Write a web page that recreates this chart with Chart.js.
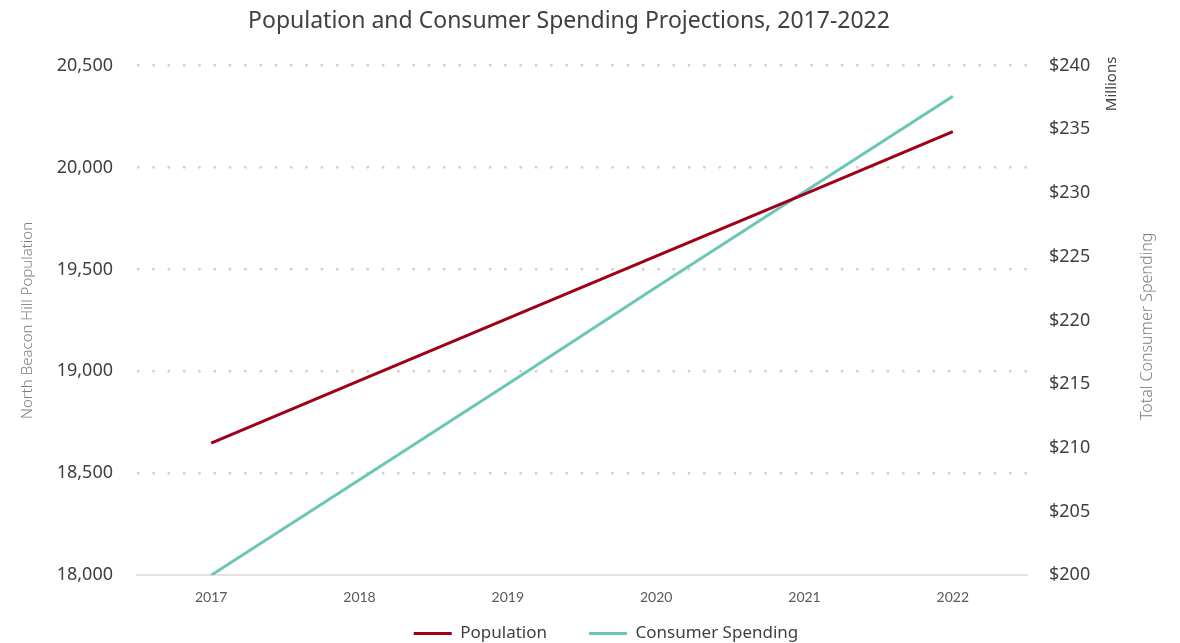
<!DOCTYPE html>
<html>
<head>
<meta charset="utf-8">
<script src="https://cdn.jsdelivr.net/npm/chart.js@4"></script>
<style>
    html, body { margin: 0; padding: 0; background: #fff; }
    #wrap { width: 1180px; height: 643px; }
</style>
</head>
<body>
<div id="wrap"><canvas id="chart"></canvas></div>
<script>
const years = ['2017', '2018', '2019', '2020', '2021', '2022'];
const population = [18648, 18954, 19260, 19565, 19870, 20176];
const spending = [200.0, 207.5, 215.0, 222.6, 230.1, 237.6]; // millions of dollars

const popTicks = { min: 18000, max: 20500, step: 500 };
const spendTicks = { min: 200, max: 240, step: 5 };

const titleFont = 'Noto Sans';
const labelFont = 'Noto Sans';
const legendGap = 42;

// right side titles read bottom to top, so draw them here
const rightTitles = {
    id: 'rightTitles',
    afterDraw(chart) {
        const { ctx, chartArea } = chart;
        ctx.save();
        ctx.fillStyle = '#404040';
        ctx.font = '15px "' + labelFont + '"';
        ctx.translate(1112, chartArea.top - 9);
        ctx.rotate(-Math.PI / 2);
        ctx.textAlign = 'right';
        ctx.textBaseline = 'middle';
        ctx.fillText('Millions', 0, 0);
        ctx.restore();

        ctx.save();
        ctx.fillStyle = '#7f7f7f';
        ctx.font = '300 16px "' + labelFont + '"';
        ctx.translate(1147, (chartArea.top + chartArea.bottom) / 2 + 6);
        ctx.rotate(-Math.PI / 2);
        ctx.textAlign = 'center';
        ctx.textBaseline = 'middle';
        ctx.fillText('Total Consumer Spending', 0, 0);
        ctx.restore();
    }
};

// wide gaps between legend items but a short legend box,
// and title / legend nudged off centre like the original
const boxTweaks = {
    id: 'boxTweaks',
    beforeInit(chart) {
        const fit = chart.legend.fit;
        chart.legend.fit = function () {
            fit.bind(chart.legend)();
            this.height = 23;
        };
    },
    afterLayout(chart) {
        const lg = chart.legend;
        lg.top = 583;
        lg.left += 16;
        lg.right += 16;
        chart.titleBlock.right -= 42;
    }
};

new Chart(document.getElementById('chart').getContext('2d'), {
    type: 'line',
    data: {
        labels: years,
        datasets: [{
            label: 'Population',
            data: population,
            yAxisID: 'y',
            borderColor: '#a00018',
            backgroundColor: '#a00018',
            borderWidth: 3,
            pointRadius: 0,
            tension: 0
        }, {
            label: 'Consumer Spending',
            data: spending,
            yAxisID: 'y1',
            borderColor: '#6cc6b6',
            backgroundColor: '#6cc6b6',
            borderWidth: 3,
            pointRadius: 0,
            tension: 0
        }]
    },
    options: {
        responsive: true,
        maintainAspectRatio: false,
        animation: false,
        layout: { padding: 0 },
        plugins: {
            title: {
                display: true,
                text: 'Population and Consumer Spending Projections, 2017-2022',
                color: '#404040',
                font: { family: titleFont, size: 23, weight: '400' },
                padding: { top: 8, bottom: 30 }
            },
            legend: {
                position: 'bottom',
                labels: {
                    color: '#404040',
                    font: { family: labelFont, size: 17 },
                    usePointStyle: true,
                    pointStyle: 'line',
                    pointStyleWidth: 38,
                    boxHeight: 3,
                    padding: legendGap
                }
            },
            tooltip: { enabled: false }
        },
        scales: {
            x: {
                offset: true,
                grid: { display: false, drawTicks: false },
                border: { display: true, color: '#e3e3e3', width: 2 },
                ticks: {
                    color: '#595959',
                    font: { family: 'Lato', size: 14 },
                    padding: 14,
                    maxRotation: 0
                }
            },
            y: {
                position: 'left',
                min: popTicks.min,
                max: popTicks.max,
                afterFit: (scale) => { scale.width = 137; },
                ticks: {
                    stepSize: popTicks.step,
                    color: '#404040',
                    font: { family: labelFont, size: 18 },
                    padding: 24,
                    callback: (v) => v.toLocaleString('en-US')
                },
                grid: {
                    drawTicks: false,
                    lineWidth: 2.5,
                    color: (c) => c.tick && c.tick.value === popTicks.min ? 'rgba(0,0,0,0)' : '#d0d0d0'
                },
                border: { display: false, dash: [2.5, 12.8] },
                title: {
                    display: true,
                    text: 'North Beacon Hill Population',
                    color: '#7f7f7f',
                    font: { family: labelFont, size: 15, weight: '300' },
                    padding: { top: 19, bottom: 0 }
                }
            },
            y1: {
                position: 'right',
                min: spendTicks.min,
                max: spendTicks.max,
                afterFit: (scale) => { scale.width = 153; },
                ticks: {
                    stepSize: spendTicks.step,
                    color: '#404040',
                    font: { family: labelFont, size: 18 },
                    padding: 22,
                    callback: (v) => '$' + v
                },
                grid: { display: false, drawTicks: false },
                border: { display: false }
            }
        }
    },
    plugins: [rightTitles, boxTweaks]
});
</script>
</body>
</html>
